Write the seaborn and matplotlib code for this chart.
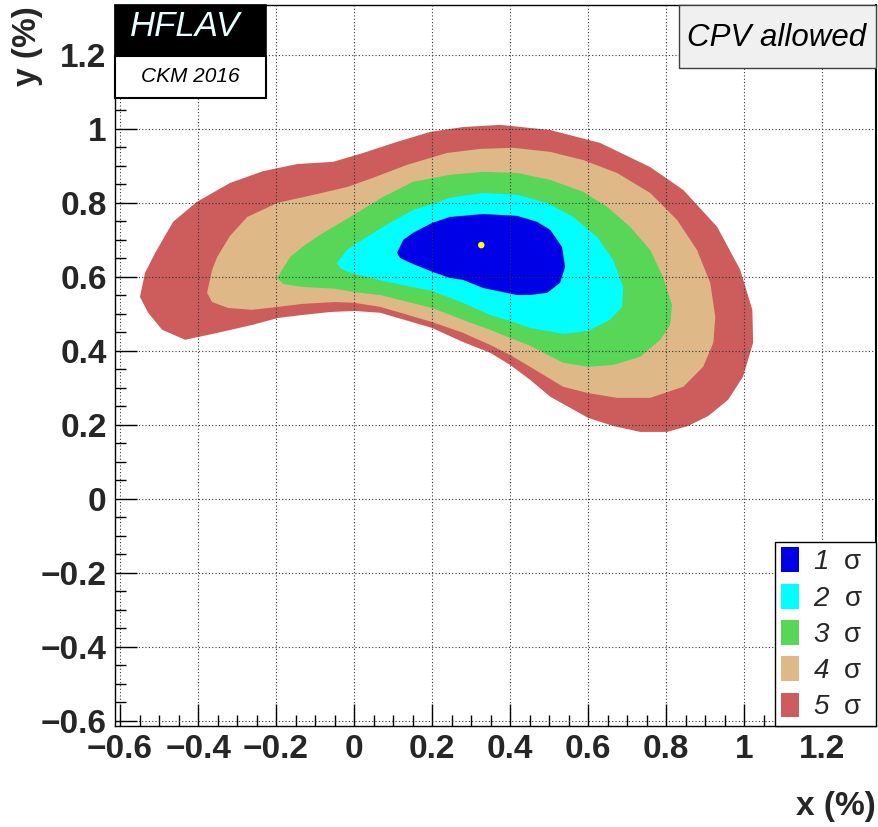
import numpy as np
import matplotlib
matplotlib.use("Agg")
import matplotlib.pyplot as plt
import seaborn as sns
from matplotlib.patches import Patch, Rectangle
from matplotlib.ticker import MultipleLocator, FuncFormatter

# contour boundaries (x %, y %)
sig5_x = [-0.549, -0.536, -0.510, -0.464, -0.403, -0.318, -0.233, -0.146, -0.054, 0.023,
          0.110, 0.195, 0.279, 0.374, 0.503, 0.631, 0.759, 0.844, 0.931, 0.990,
          1.021, 1.023, 0.997, 0.959, 0.908, 0.856, 0.803, 0.733, 0.664, 0.600,
          0.503, 0.451, 0.400, 0.349, 0.279, 0.200, 0.067, 0.000, -0.062, -0.133,
          -0.195, -0.262, -0.349, -0.433, -0.492, -0.528]
sig5_y = [0.546, 0.611, 0.665, 0.749, 0.803, 0.854, 0.886, 0.905, 0.911, 0.935,
          0.965, 0.992, 1.005, 1.011, 0.997, 0.962, 0.897, 0.835, 0.735, 0.619,
          0.511, 0.422, 0.330, 0.268, 0.224, 0.197, 0.181, 0.181, 0.197, 0.219,
          0.276, 0.322, 0.362, 0.395, 0.424, 0.462, 0.503, 0.508, 0.505, 0.497,
          0.489, 0.470, 0.449, 0.430, 0.457, 0.503]

sig4_x = [-0.377, -0.364, -0.351, -0.318, -0.274, -0.197, -0.095, -0.018, 0.049, 0.136,
          0.238, 0.323, 0.408, 0.503, 0.587, 0.674, 0.759, 0.828, 0.879, 0.913,
          0.926, 0.921, 0.895, 0.844, 0.759, 0.674, 0.600, 0.536, 0.451, 0.400,
          0.349, 0.279, 0.200, 0.067, 0.000, -0.049, -0.133, -0.195, -0.262, -0.323,
          -0.364]
sig4_y = [0.557, 0.619, 0.654, 0.711, 0.762, 0.800, 0.824, 0.843, 0.868, 0.903,
          0.935, 0.946, 0.949, 0.938, 0.916, 0.881, 0.827, 0.754, 0.673, 0.584,
          0.492, 0.422, 0.357, 0.303, 0.273, 0.273, 0.286, 0.303, 0.357, 0.389,
          0.416, 0.449, 0.478, 0.519, 0.530, 0.532, 0.527, 0.519, 0.511, 0.516,
          0.532]

sig3_x = [-0.197, -0.164, -0.126, -0.087, -0.010, 0.074, 0.151, 0.246, 0.331, 0.418,
          0.503, 0.587, 0.649, 0.708, 0.759, 0.792, 0.815, 0.810, 0.785, 0.733,
          0.664, 0.600, 0.536, 0.451, 0.400, 0.349, 0.279, 0.200, 0.067, 0.000,
          -0.049, -0.133, -0.182]
sig3_y = [0.597, 0.654, 0.686, 0.714, 0.762, 0.816, 0.857, 0.876, 0.884, 0.881,
          0.862, 0.830, 0.789, 0.735, 0.673, 0.600, 0.524, 0.470, 0.430, 0.384,
          0.362, 0.357, 0.368, 0.414, 0.435, 0.457, 0.484, 0.516, 0.551, 0.559,
          0.568, 0.573, 0.581]

sig2_x = [-0.044, -0.018, 0.008, 0.033, 0.079, 0.151, 0.200, 0.246, 0.331, 0.418,
          0.495, 0.562, 0.623, 0.664, 0.690, 0.687, 0.656, 0.600, 0.536, 0.451,
          0.400, 0.349, 0.279, 0.200, 0.074, -0.010, -0.036]
sig2_y = [0.638, 0.673, 0.692, 0.708, 0.738, 0.781, 0.797, 0.814, 0.827, 0.822,
          0.800, 0.762, 0.708, 0.646, 0.573, 0.519, 0.484, 0.454, 0.446, 0.462,
          0.481, 0.497, 0.530, 0.562, 0.589, 0.611, 0.624]

sig1_x = [0.110, 0.126, 0.151, 0.200, 0.246, 0.331, 0.418, 0.469, 0.503, 0.533,
          0.541, 0.528, 0.495, 0.451, 0.418, 0.367, 0.331, 0.279, 0.246, 0.200,
          0.144, 0.118]
sig1_y = [0.665, 0.700, 0.719, 0.746, 0.762, 0.770, 0.765, 0.749, 0.727, 0.681,
          0.627, 0.584, 0.557, 0.551, 0.551, 0.562, 0.570, 0.592, 0.597, 0.614,
          0.638, 0.651]

best_x = [0.326]
best_y = [0.686]

labels = ["1", "2", "3", "4", "5"]
colors = ["#0000e6", "#00ffff", "#57d657", "#deb887", "#cd5c5c"]

sns.set_style("white")
plt.rcParams["font.family"] = ["Liberation Sans", "DejaVu Sans"]
# digits in the legend are italic, sigma is upright
plt.rcParams["mathtext.fontset"] = "custom"
plt.rcParams["mathtext.rm"] = "Liberation Sans:italic"
plt.rcParams["mathtext.it"] = "Liberation Sans:italic"

W, H = 879, 827
fig = plt.figure(figsize=(W / 100, H / 100), dpi=100)
ax = fig.add_axes([115 / W, 1 - 726 / H, 761 / W, 721 / H])

# outer to inner
contours = [(sig5_x, sig5_y), (sig4_x, sig4_y), (sig3_x, sig3_y),
            (sig2_x, sig2_y), (sig1_x, sig1_y)]
for (cx, cy), col in zip(contours, colors[::-1]):
    ax.fill(cx, cy, color=col, lw=0, zorder=1)

sns.scatterplot(x=best_x, y=best_y, color="yellow", s=22, edgecolor="none",
                ax=ax, zorder=3)

ax.set_xlim(-0.613, 1.338)
ax.set_ylim(-0.614, 1.335)

def fmt(v, pos):
    v = round(v, 2)
    if v == 0:
        return "0"
    return f"{v:g}".replace("-", "\u2212")

for axis in (ax.xaxis, ax.yaxis):
    axis.set_major_locator(MultipleLocator(0.2))
    axis.set_minor_locator(MultipleLocator(0.05))
    axis.set_major_formatter(FuncFormatter(fmt))

ax.tick_params(which="both", bottom=True, left=True, top=False, right=False)
ax.tick_params(which="major", direction="in", length=16, width=1, color="black",
               labelsize=24, pad=6)
ax.tick_params(which="minor", direction="in", length=8, width=1, color="black")
for lab in ax.get_xticklabels() + ax.get_yticklabels():
    lab.set_fontweight("bold")

ax.set_axisbelow(False)
ax.grid(True, which="major", color="#333333", linestyle=(0, (1, 2)), linewidth=0.8)
for s in ax.spines.values():
    s.set_color("black")
    s.set_linewidth(1.0)
ax.spines["right"].set_linewidth(1.5)

# legend
handles = [Patch(facecolor=c, edgecolor="none") for c in colors]
leg = ax.legend(handles, [rf"$\mathrm{{{l}}}$  σ  " for l in labels],
                loc="lower right", bbox_to_anchor=(1.0, 0.0), borderaxespad=0,
                fontsize=20, frameon=True, fancybox=False, edgecolor="black",
                framealpha=1, handlelength=0.65, handleheight=1.0,
                handletextpad=0.5, labelspacing=0.3, borderpad=0.2)
leg.get_frame().set_linewidth(1.0)
leg.set_zorder(10)

# axis titles
fig.text(876 / W, 1 - 806 / H, "x (%)", ha="right", va="center",
         fontsize=24, fontweight="bold")
fig.text(28 / W, 1 - 6 / H, "y (%)", ha="center", va="top", rotation=90,
         fontsize=24, fontweight="bold")

# HFLAV logo
fig.add_artist(Rectangle((115 / W, 1 - 56 / H), 151 / W, 51 / H,
                         transform=fig.transFigure, facecolor="black",
                         edgecolor="black", lw=1.2, zorder=5))
fig.add_artist(Rectangle((115 / W, 1 - 98 / H), 151 / W, 42 / H,
                         transform=fig.transFigure, facecolor="white",
                         edgecolor="black", lw=1.5, zorder=5))
fig.text(185 / W, 1 - 27 / H, "HFLAV", ha="center", va="center", fontsize=25,
         style="italic", color="#e6ffff", zorder=6)
fig.text(190 / W, 1 - 76 / H, "CKM 2016", ha="center", va="center", fontsize=15,
         style="italic", color="black", zorder=6)

# CPV allowed label
fig.add_artist(Rectangle((679 / W, 1 - 68 / H), 197 / W, 63 / H,
                         transform=fig.transFigure, facecolor="#f0f0f0",
                         edgecolor="#404040", lw=1.0, zorder=5))
fig.text(777 / W, 1 - 38 / H, "CPV allowed", ha="center", va="center",
         fontsize=22.5, style="italic", color="black", zorder=6)

fig.savefig("out.png", dpi=100)
